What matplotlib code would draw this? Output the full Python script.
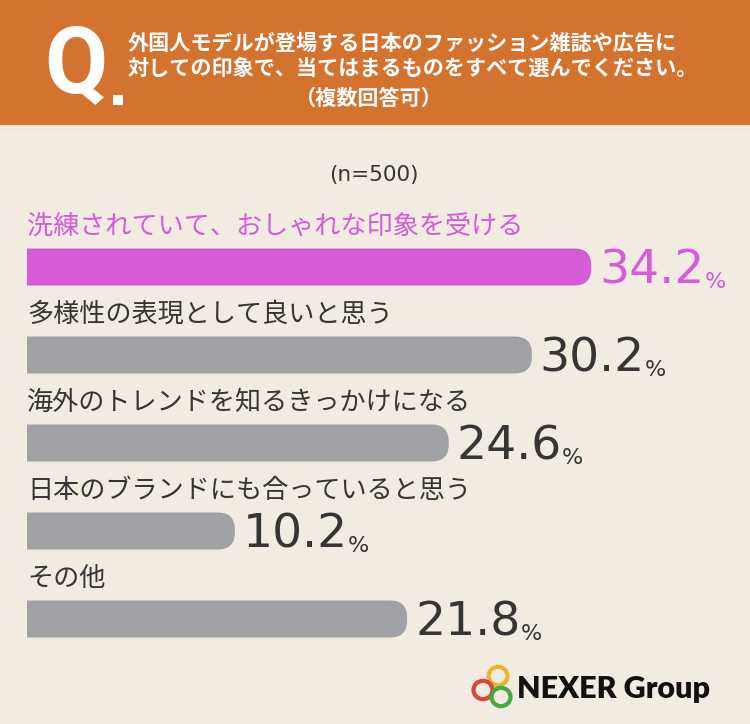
import matplotlib
matplotlib.use("Agg")
from matplotlib import pyplot as plt
from matplotlib.patches import FancyBboxPatch, Rectangle, Circle

plt.rcParams['font.family'] = ['Noto Sans CJK JP', 'DejaVu Sans']

# data
categories = ["洗練されていて、おしゃれな印象を受ける",
              "多様性の表現として良いと思う",
              "海外のトレンドを知るきっかけになる",
              "日本のブランドにも合っていると思う",
              "その他"]
values = [34.2, 30.2, 24.6, 10.2, 21.8]
n_label = "(n=500)"
question = ["外国人モデルが登場する日本のファッション雑誌や広告に",
            "対しての印象で、当てはまるものをすべて選んでください。"]
note = "（複数回答可）"

# styles
W, H = 750, 724
bg = "#f2ebe2"
orange = "#d4732f"
accent = "#d65bd6"
gray_bar = "#a0a1a4"
dark = "#353535"
px_per_unit = 14.85      # horizontal scale of the bars
zero_px = 83.4           # where value 0 lands
bar_start_px = 27
row_px = 88
first_row_px = 267
bar_h_px = 37

fig = plt.figure(figsize=(W / 100, H / 100), dpi=100)
fig.patch.set_facecolor(bg)

# header band
fig.patches.append(Rectangle((0, 1 - 125 / H), 1, 125 / H, transform=fig.transFigure,
                             facecolor=orange, edgecolor='none', zorder=0))
fig.patches.append(Rectangle((0, 1 - 130 / H), 1, 5 / H, transform=fig.transFigure,
                             facecolor="#f6e6d8", edgecolor='none', zorder=0))
fig.text(44 / W, 1 - 67 / H, "Q", color="white", fontsize=66, fontweight='bold',
         family=['Liberation Sans Narrow', 'Roboto', 'DejaVu Sans'], ha='left', va='center')
fig.patches.append(Rectangle((113 / W, 1 - 105 / H), 10 / W, 10 / H, transform=fig.transFigure,
                             facecolor="white", edgecolor='none'))
fig.text(128 / W, 1 - 43 / H, question[0], color="white", fontsize=15.2, fontweight='bold',
         ha='left', va='center')
fig.text(128 / W, 1 - 68 / H, question[1], color="white", fontsize=15.2, fontweight='bold',
         ha='left', va='center')
fig.text(368 / W, 1 - 98 / H, note, color="white", fontsize=15.2, fontweight='bold',
         ha='center', va='center')

fig.text(374 / W, 1 - 175 / H, n_label, color=dark, fontsize=15.5,
         family=['DejaVu Sans'], ha='center', va='center')

# chart axes covering the whole figure
ax = fig.add_axes([0, 0, 1, 1])
ax.set_facecolor('none')
ax.set_xlim(-zero_px / px_per_unit, (W - zero_px) / px_per_unit)
ax.set_ylim((H - first_row_px) / row_px, -first_row_px / row_px)
ax.axis('off')

left = (bar_start_px - zero_px) / px_per_unit
bar_h = bar_h_px / row_px
aspect = px_per_unit / row_px
radius = 17 / px_per_unit

for i, (cat, v) in enumerate(zip(categories, values)):
    col = accent if i == 0 else gray_bar
    tcol = accent if i == 0 else dark
    # rounded box that starts a bit further left, clipped so the left edge is square
    box = FancyBboxPatch((left - 2 * radius, i - bar_h / 2), v - left + 2 * radius, bar_h,
                         boxstyle="round,pad=0,rounding_size=%f" % radius,
                         mutation_aspect=aspect, facecolor=col, edgecolor='none')
    ax.add_patch(box)
    clip = Rectangle((left, i - bar_h), v - left + 1, 2 * bar_h,
                     transform=ax.transData, facecolor='none', edgecolor='none')
    box.set_clip_path(clip)
    ax.text(left, i - 41 / row_px, cat, color=tcol, fontsize=18.8,
            ha='left', va='center')
    num = ax.text(v + 8 / px_per_unit, i + 16 / row_px, "%.1f" % v, color=tcol,
                  fontsize=34, family=['DejaVu Sans'],
                  ha='left', va='baseline')
    ax.annotate("%", xy=(1, 0), xycoords=num, xytext=(0, 1), textcoords='offset points',
                color=tcol, fontsize=16, family=['DejaVu Sans'],
                ha='left', va='bottom')

# logo
for cx, cy, c in [(498, 676, "#e8b528"), (483, 690, "#d9473c"), (501, 697, "#45a845")]:
    fig.patches.append(Circle((cx / W, 1 - cy / H), 9.5 / W, transform=fig.transFigure,
                              facecolor='none', edgecolor=c, linewidth=3))
fig.text(517 / W, 1 - 689 / H, "NEXER Group", color="#111111", fontsize=22,
         fontweight='heavy', family=['Lato', 'DejaVu Sans'], ha='left', va='center')

fig.savefig("out.png", dpi=100, facecolor=bg)
